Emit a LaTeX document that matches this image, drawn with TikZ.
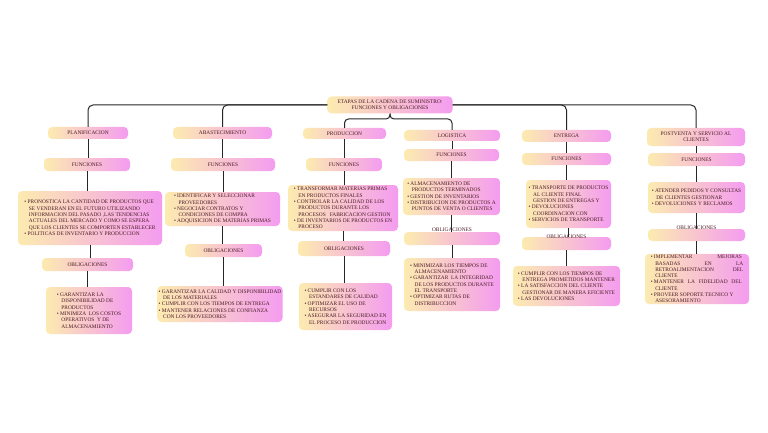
\documentclass[tikz,border=0pt]{standalone}
\usepackage{fontspec}
\setmainfont{Liberation Serif}
\begin{document}
\begin{tikzpicture}[x=1pt,y=-1pt,
  bx/.style={rounded corners=4pt,left color=yy,right color=pp,draw=none,inner sep=1.2pt,
    font=\fontsize{5.4}{6.3}\selectfont,text=tt,align=center},
  lst/.style={bx,align=left},
  ln/.style={draw=black!85,line width=1pt}]
\definecolor{yy}{HTML}{FCEBB0}
\definecolor{pp}{HTML}{F49CF0}
\definecolor{tt}{HTML}{4A1A24}
\newcommand{\bu}{\textbullet\ }
\newcommand{\ind}{\hspace*{4.5pt}}
\newcommand{\jl}[1]{\makebox[88pt][s]{#1}}
\useasboundingbox (0,0) rectangle (768,433);
\fill[white] (0,0) rectangle (768,433);
% root
\node[bx,minimum width=125pt,minimum height=17pt] (root) at (390,105) {ETAPAS DE LA CADENA DE SUMINISTRO:\\FUNCIONES Y OBLIGACIONES};
% column 1
\node[bx,minimum width=80pt,minimum height=12pt] (t1) at (88,133) {PLANIFICACION};
\node[bx,minimum width=86pt,minimum height=13pt] (f1) at (87,164.5) {FUNCIONES};
\node[lst,minimum width=144pt,minimum height=54pt] (c1) at (90,218) {\bu PRONOSTICA LA CANTIDAD DE PRODUCTOS QUE\\\ind SE VENDERAN EN EL FUTURO UTILIZANDO\\\ind INFORMACION DEL PASADO ,LAS TENDENCIAS\\\ind ACTUALES DEL MERCADO Y COMO SE ESPERA\\\ind QUE LOS CLIENTES SE COMPORTEN ESTABLECER\\\bu POLITICAS DE INVENTARIO Y PRODUCCION};
\node[bx,minimum width=91pt,minimum height=13pt] (o1) at (87.5,264.5) {OBLIGACIONES};
\node[lst,minimum width=86pt,minimum height=47pt] (d1) at (89,310.5) {\bu GARANTIZAR LA\\\ind DISPONIBILIDAD DE\\\ind PRODUCTOS\\\bu MINIMIZA\ \ LOS COSTOS\\\ind OPERATIVOS\ \ Y DE\\\ind ALMACENAMIENTO};
% column 2
\node[bx,minimum width=99pt,minimum height=12pt] (t2) at (222.5,133) {ABASTECIMIENTO};
\node[bx,minimum width=104pt,minimum height=13pt] (f2) at (223,164.5) {FUNCIONES};
\node[lst,minimum width=115pt,minimum height=34pt] (c2) at (222.5,209) {\bu IDENTIFICAR Y SELECCIONAR\\\ind PROVEEDORES\\\bu NEGOCIAR CONTRATOS Y\\\ind CONDICIONES DE COMPRA\\\bu ADQUISICION DE MATERIAS PRIMAS};
\node[bx,minimum width=77pt,minimum height=13pt] (o2) at (223.5,250.5) {OBLIGACIONES};
\node[lst,minimum width=125pt,minimum height=36pt] (d2) at (220,304) {\bu GARANTIZAR LA CALIDAD Y DISPONIBILIDAD\\\ind DE LOS MATERIALES\\\bu CUMPLIR CON LOS TIEMPOS DE ENTREGA\\\bu MANTENER RELACIONES DE CONFIANZA\\\ind CON LOS PROVEEDORES};
% column 3
\node[bx,minimum width=83pt,minimum height=11pt] (t3) at (344.5,133.5) {PRODUCCION};
\node[bx,minimum width=76pt,minimum height=13pt] (f3) at (344,164.5) {FUNCIONES};
\node[lst,minimum width=110pt,minimum height=46pt] (c3) at (343,208) {\bu TRANSFORMAR MATERIAS PRIMAS\\\ind EN PRODUCTOS FINALES\\\bu CONTROLAR LA CALIDAD DE LOS\\\ind PRODUCTOS DURANTE LOS\\\ind PROCESOS\ \ \ FABRICACION GESTION\\\bu DE INVENTARIOS DE PRODUCTOS EN\\\ind PROCESO};
\node[bx,minimum width=92pt,minimum height=15pt] (o3) at (344,248.5) {OBLIGACIONES};
\node[lst,minimum width=93pt,minimum height=47pt] (d3) at (345.5,306.5) {\bu CUMPLIR CON LOS\\\ind ESTANDARES DE CALIDAD\\\bu OPTIMIZAR EL USO DE\\\ind RECURSOS\\\bu ASEGURAR LA SEGURIDAD EN\\\ind EL PROCESO DE PRODUCCION};
% column 4
\node[bx,minimum width=96pt,minimum height=11pt] (t4) at (452,135.5) {LOGISTICA};
\node[bx,minimum width=95pt,minimum height=12pt] (f4) at (451.5,155) {FUNCIONES};
\node[lst,minimum width=97pt,minimum height=37pt] (c4) at (451.5,196.5) {\bu ALMACENAMIENTO DE\\\ind PRODUCTOS TERMINADOS\\\bu GESTION DE INVENTARIOS\\\bu DISTRIBUCION DE PRODUCTOS A\\\ind PUNTOS DE VENTA O CLIENTES};
\node[bx,minimum width=96pt,minimum height=13pt] (o4) at (452,238.5) {};
\node[font=\fontsize{5.4}{6.3}\selectfont,text=tt,inner sep=0pt] (o4l) at (452,229.5) {OBLIGACIONES};
\node[lst,minimum width=96pt,minimum height=53pt] (d4) at (452,284.5) {\bu MINIMIZAR LOS TIEMPOS DE\\\ind ALMACENAMIENTO\\\bu GARANTIZAR\ \ LA INTEGRIDAD\\\ind DE LOS PRODUCTOS DURANTE\\\ind EL TRANSPORTE\\\bu OPTIMIZAR RUTAS DE\\\ind DISTRIBUCCION};
% column 5
\node[bx,minimum width=89pt,minimum height=12pt] (t5) at (566.5,136) {ENTREGA};
\node[bx,minimum width=89pt,minimum height=12pt] (f5) at (566.5,159) {FUNCIONES};
\node[lst,minimum width=85pt,minimum height=48pt] (c5) at (568.5,204) {\bu TRANSPORTE DE PRODUCTOS\\\ind AL CLIENTE FINAL\\\ind GESTION DE ENTREGAS Y\\\bu DEVOLUCIONES\\\ind COORDINACION CON\\\bu SERVICIOS DE TRANSPORTE};
\node[bx,minimum width=89pt,minimum height=13pt] (o5) at (566.5,243.5) {};
\node[font=\fontsize{5.4}{6.3}\selectfont,text=tt,inner sep=0pt] (o5l) at (566.5,236.5) {OBLIGACIONES};
\node[lst,minimum width=107pt,minimum height=40pt] (d5) at (566.5,286) {\bu CUMPLIR CON LOS TIEMPOS DE\\\ind ENTREGA PROMETIDOS MANTENER\\\bu LA SATISFACCION DEL CLIENTE\\\ind GESTIONAR DE MANERA EFICIENTE\\\bu LAS DEVOLUCIONES};
% column 6
\node[bx,minimum width=98pt,minimum height=18pt] (t6) at (696,137) {POSTVENTA Y SERVICIO AL\\CLIENTES};
\node[bx,minimum width=97pt,minimum height=13pt] (f6) at (696.5,159.5) {FUNCIONES};
\node[lst,minimum width=97pt,minimum height=31pt] (c6) at (696.5,197.5) {\bu ATENDER PEDIDOS Y CONSULTAS\\\ind DE CLIENTES GESTIONAR\\\bu DEVOLUCIONES Y RECLAMOS};
\node[bx,minimum width=97pt,minimum height=12pt] (o6) at (696.5,235) {};
\node[font=\fontsize{5.4}{6.3}\selectfont,text=tt,inner sep=0pt] (o6l) at (696.5,228) {OBLIGACIONES};
\node[lst,minimum width=104pt,minimum height=46pt] (d6) at (697,279) {\bu \jl{IMPLEMENTAR\hfill MEJORAS}\\\ind\jl{BASADAS\hfill EN\hfill LA}\\\ind\jl{RETROALIMENTACION\hfill DEL}\\\ind CLIENTE\\\bu \jl{MANTENER\hfill LA\hfill FIDELIDAD\hfill DEL}\\\ind CLIENTE\\\bu PROVEER SOPORTE TECNICO Y\\\ind ASESORAMIENTO};
% connectors from root
\draw[ln,rounded corners=5pt] (root.west) -- (88,105) -- (t1.north);
\draw[ln,rounded corners=5pt] (root.west) -- (222.5,105) -- (t2.north);
\draw[ln,rounded corners=5pt] (root.east) -- (696,105) -- (t6.north);
\draw[ln,rounded corners=5pt] (root.east) -- (566.5,105) -- (t5.north);
\draw[ln,rounded corners=4pt] (root.south) -- (390,119) -- (344.5,119) -- (t3.north);
\draw[ln,rounded corners=4pt] (root.south) -- (390,119) -- (452,119) -- (t4.north);
% vertical chains
\foreach \a/\b in {t1/f1,f1/c1,c1/o1,o1/d1,t2/f2,f2/c2,c2/o2,o2/d2,t3/f3,f3/c3,c3/o3,o3/d3,t4/f4,f4/c4,c4/o4,o4/d4,t5/f5,f5/c5,c5/o5,o5/d5,t6/f6,f6/c6,c6/o6,o6/d6}
  \draw[ln] (\a.south) -- (\a.south |- \b.north);
\end{tikzpicture}
\end{document}
